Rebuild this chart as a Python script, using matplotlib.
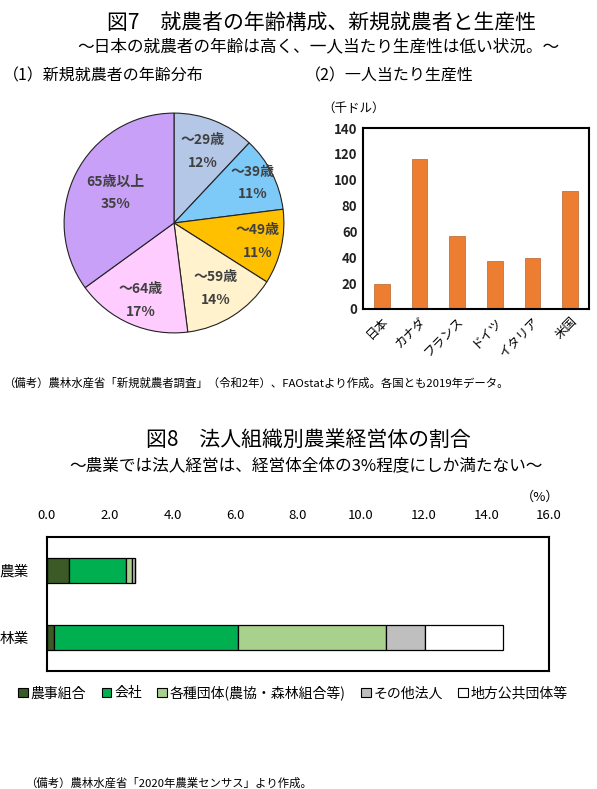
import matplotlib
matplotlib.use("Agg")
import matplotlib.pyplot as plt
from matplotlib.patches import Patch
import numpy as np

plt.rcParams['font.family'] = ['Noto Sans CJK JP', 'DejaVu Sans']

# ---- data ----
age_labels = ["～29歳", "～39歳", "～49歳", "～59歳", "～64歳", "65歳以上"]
age_shares = [12, 11, 11, 14, 17, 35]
age_colors = ["#B4C7E7", "#7DC9F8", "#FFC000", "#FFF2CC", "#FFCCFF", "#C9A0F7"]
age_label_r = [0.70, 0.80, 0.78, 0.71, 0.77, 0.60]

countries = ["日本", "カナダ", "フランス", "ドイツ", "イタリア", "米国"]
productivity = [19.5, 116, 56.5, 37.5, 39.5, 91.5]
prod_ticks = [0, 20, 40, 60, 80, 100, 120, 140]

sectors = ["農業", "林業"]
org_types = ["農事組合", "会社", "各種団体(農協・森林組合等)", "その他法人", "地方公共団体等"]
org_colors = ["#3B5A26", "#00B050", "#A9D18E", "#BFBFBF", "#FFFFFF"]
org_values = {
    "農業": [0.69, 1.84, 0.18, 0.08, 0.03],
    "林業": [0.21, 5.87, 4.74, 1.24, 2.48],
}
share_ticks = [0, 2, 4, 6, 8, 10, 12, 14, 16]

W, H = 597, 789
fig = plt.figure(figsize=(W / 100, H / 100), dpi=100)

def fx(px):
    return px / W

def fy(py):
    return 1 - py / H

# ---- titles ----
fig.text(fx(322), fy(23), "図7　就農者の年齢構成、新規就農者と生産性", ha="center", va="center", fontsize=15)
fig.text(fx(318), fy(47), "～日本の就農者の年齢は高く、一人当たり生産性は低い状況。～", ha="center", va="center", fontsize=12)
fig.text(fx(3), fy(76), "（1）新規就農者の年齢分布", ha="left", va="center", fontsize=11.5)
fig.text(fx(305), fy(76), "（2）一人当たり生産性", ha="left", va="center", fontsize=11.5)

# ---- pie ----
axp = fig.add_axes([fx(63), fy(334), 222 / W, 222 / H])
wedges, _ = axp.pie(age_shares, colors=age_colors, startangle=90, counterclock=False,
                    wedgeprops=dict(edgecolor="#222222", linewidth=0.8))
for w, lab, share, r in zip(wedges, age_labels, age_shares, age_label_r):
    ang = np.deg2rad((w.theta1 + w.theta2) / 2)
    axp.text(r * np.cos(ang), r * np.sin(ang), f"{lab}\n{share}%", ha="center", va="center",
             fontsize=10, fontweight="bold", color="#404040", linespacing=1.8)
axp.set_xlim(-1.01, 1.01)
axp.set_ylim(-1.01, 1.01)
axp.set_aspect("auto")

# ---- productivity bars ----
axb = fig.add_axes([fx(363), fy(309), 226 / W, 181 / H])
x = np.arange(len(countries))
axb.bar(x, productivity, width=0.42, color="#ED7D31", edgecolor="#B8632A", linewidth=0.5)
axb.set_xlim(-0.5, len(countries) - 0.5)
axb.set_ylim(0, 140)
axb.set_yticks(prod_ticks)
axb.set_yticklabels([str(t) for t in prod_ticks], fontsize=9.5, fontweight="bold", color="#222222")
axb.set_xticks(x)
axb.set_xticklabels(countries, rotation=45, ha="right", rotation_mode="anchor", fontsize=9)
axb.tick_params(axis="both", length=0, pad=4)
for s in axb.spines.values():
    s.set_linewidth(1.5)
    s.set_color("black")
fig.text(fx(322), fy(108), "（千ドル）", ha="left", va="center", fontsize=9)

fig.text(fx(3), fy(383), "（備考）農林水産省「新規就農者調査」（令和2年）、FAOstatより作成。各国とも2019年データ。",
         ha="left", va="center", fontsize=8.2)

# ---- figure 8 ----
fig.text(fx(308), fy(440), "図8　法人組織別農業経営体の割合", ha="center", va="center", fontsize=15)
fig.text(fx(306), fy(466), "～農業では法人経営は、経営体全体の3%程度にしか満たない～", ha="center", va="center", fontsize=12)

axh = fig.add_axes([fx(47), fy(671), 502 / W, 134 / H])
ypos = np.arange(len(sectors))
for i, sec in enumerate(sectors):
    left = 0
    for val, col in zip(org_values[sec], org_colors):
        axh.barh(i, val, left=left, height=0.36, color=col, edgecolor="black", linewidth=0.9)
        left += val
axh.set_ylim(1.5, -0.5)
axh.set_xlim(0, 16)
axh.set_yticks(ypos)
axh.set_yticklabels(sectors, fontsize=10.5)
axh.xaxis.tick_top()
axh.set_xticks(share_ticks)
axh.set_xticklabels([f"{t:.1f}" for t in share_ticks], fontsize=9.5)
axh.tick_params(axis="both", length=0)
axh.tick_params(axis="x", pad=11)
axh.tick_params(axis="y", pad=13)
for s in axh.spines.values():
    s.set_linewidth(1.5)
    s.set_color("black")
fig.text(fx(540), fy(497), "（%）", ha="center", va="center", fontsize=9.5)

handles = [Patch(facecolor=c, edgecolor="black", linewidth=0.8) for c in org_colors]
fig.legend(handles, org_types, loc="center", bbox_to_anchor=(fx(293), fy(693)), ncol=5,
           frameon=False, fontsize=10, handlelength=0.7, handleheight=0.7, handletextpad=0.2,
           columnspacing=1.1, borderaxespad=0)

fig.text(fx(25), fy(783), "（備考）農林水産省「2020年農業センサス」より作成。", ha="left", va="center", fontsize=8.2)

fig.savefig("out.png", dpi=100)
